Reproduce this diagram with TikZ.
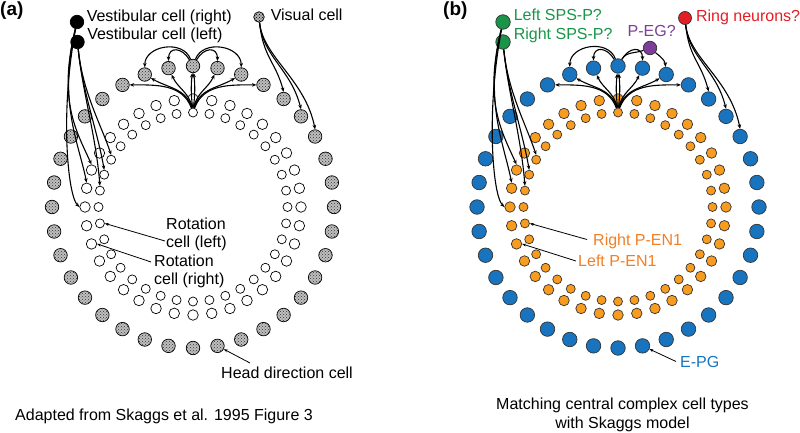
\documentclass[tikz,border=0pt]{standalone}
\usepackage{fontspec}
\setmainfont{Liberation Sans}
\usetikzlibrary{arrows.meta,patterns,positioning}

\definecolor{epgblue}{RGB}{24,116,190}
\definecolor{penorange}{RGB}{248,156,32}
\definecolor{penlabel}{RGB}{240,128,40}
\definecolor{spsgreen}{RGB}{26,148,72}
\definecolor{pegpurple}{RGB}{124,62,152}
\definecolor{ringred}{RGB}{228,30,38}

\tikzset{
  arrow/.style={-{Stealth[length=4.5pt,width=3.6pt]}, line width=1.1pt},
  pointer/.style={-{Stealth[length=4pt,width=3pt]}, line width=0.8pt},
  lbl/.style={font=\fontsize{16}{18}\selectfont, inner sep=0pt, align=left}
}

\begin{document}
\begin{tikzpicture}[x=1pt, y=1pt,
    cell/.style={circle, draw=black, line width=0.7pt, inner sep=0pt},
    hda/.style={cell, minimum size=13.5pt, fill=gray!50,
        postaction={pattern=crosshatch dots, pattern color=black!80}},
    roa/.style={cell, minimum size=10.5pt, fill=white},
    ria/.style={cell, minimum size=9pt, fill=white},
    hdb/.style={cell, minimum size=14.5pt, fill=epgblue, draw=black!80},
    rob/.style={cell, minimum size=10.5pt, fill=penorange, draw=black!80},
    rib/.style={cell, minimum size=9pt, fill=penorange, draw=black!80},
    tag/.style={font=\fontsize{19}{22}\selectfont\bfseries, inner sep=0pt}
]
\useasboundingbox (0,0) rectangle (800,-433);

% rings of cells: panel (a) left, panel (b) right
\foreach \p/\cx in {a/193, b/618}{
  \foreach \k in {0,...,35}{
    \node[hd\p] (\p hd\k) at ({\cx+141*cos(10*\k)}, {-207+141*sin(10*\k)}) {};
    \node[ro\p] (\p ro\k) at ({\cx+108*cos(10*\k)}, {-207+108*sin(10*\k)}) {};
    \node[ri\p] (\p ri\k) at ({\cx+94.5*cos(10*\k)}, {-207+94.5*sin(10*\k)}) {};
  }
}

% input cells
\node[cell, fill=black, minimum size=13.5pt] (vestR) at (77,-22) {};
\node[cell, fill=black, minimum size=13.5pt] (vestL) at (77.5,-42) {};
\node[cell, minimum size=10.5pt, fill=gray!60,
      postaction={pattern=crosshatch dots, pattern color=black}] (visual) at (259,-17) {};
\node[cell, fill=spsgreen, draw=black!80, minimum size=14.5pt] (spsL) at (503,-22) {};
\node[cell, fill=spsgreen, draw=black!80, minimum size=14.5pt] (spsR) at (503,-42) {};
\node[cell, fill=ringred, draw=black!80, minimum size=13pt] (ring) at (685,-18) {};
\node[cell, fill=pegpurple, draw=black!80, minimum size=13.5pt] (peg) at (650,-48) {};

\node[lbl, right=2.5pt of vestR, anchor=base west] (vestRlab) {Vestibular cell (right)};
\node[lbl, right=2.5pt of vestL, anchor=base west, yshift=2pt] (vestLlab) {Vestibular cell (left)};
\node[lbl, right=6pt of visual, anchor=base west, yshift=-4pt] (visuallab) {Visual cell};
\node[lbl, right=3pt of spsL, anchor=base west, yshift=1pt, text=spsgreen] (spsLlab) {Left SPS-P?};
\node[lbl, right=3pt of spsR, anchor=base west, yshift=2.5pt, text=spsgreen] (spsRlab) {Right SPS-P?};
\node[lbl, right=4pt of ring, anchor=base west, yshift=-3.5pt, text=ringred] (ringlab) {Ring neurons?};
\node[lbl, anchor=base west, text=pegpurple] (peglab) at (627.5,-36.7) {P-EG?};

\node[tag, anchor=base west] (taga) at (0,-16) {(a)};
\node[tag, anchor=base west] (tagb) at (443,-16) {(b)};

% connections, same wiring in both panels
\foreach \p/\sa/\sb/\sv in {a/vestR/vestL/visual, b/spsL/spsR/ring}{
  \draw[arrow] (\p ri9) to[out=110,in=0] (\p hd12);
  \draw[arrow] (\p ri9) to[out=105,in=-30] (\p hd11);
  \draw[arrow] (\p ri9) to[out=100,in=-65] (\p hd10);
  \draw[arrow] (\p ri9) to[out=96,in=-96] (\p hd9);
  \draw[arrow] (\p ri9) to[out=84,in=-84] (\p hd9);
  \draw[arrow] (\p ri9) to[out=80,in=-115] (\p hd8);
  \draw[arrow] (\p ri9) to[out=75,in=-150] (\p hd7);
  \draw[arrow] (\p ri9) to[out=70,in=180] (\p hd6);
  \draw[arrow] (\p hd9) to[out=120,in=90,looseness=1.8] (\p hd10);
  \draw[arrow] (\p hd9) to[out=110,in=90,looseness=1.2] (\p hd11);
  \draw[arrow] (\p hd9) to[out=60,in=90,looseness=1.8] (\p hd8);
  \draw[arrow] (\sa) .. controls +(-17,-88) and +(-12,12) .. (\p ro18.west);
  \draw[arrow] (\sa) .. controls +(-19,-80) and +(-8,40) .. (\p ro17.north);
  \draw[arrow] (\sa) .. controls +(-19,-78) and +(-16,35) .. (\p ro16.north);
  \draw[arrow] (\sb) .. controls +(5,-50) and +(-10,30) .. (\p ri15.north);
  \draw[arrow] (\sb) .. controls +(5,-50) and +(-7,40) .. (\p ri16.north);
  \draw[arrow] (\sb) .. controls +(5,-50) and +(-4,50) .. (\p ri17.north);
  \draw[arrow] (\sv) .. controls +(4,-40) and +(-8,30) .. (\p hd5.north);
  \draw[arrow] (\sv) .. controls +(4,-40) and +(-10,40) .. (\p hd4.north);
  \draw[arrow] (\sv) .. controls +(4,-40) and +(-10,50) .. (\p hd3.north);
}
\draw[arrow] (ahd9) to[out=70,in=90,looseness=1.2] (ahd7);
\draw[arrow] (peg) to[out=-40,in=95] (bhd7);
\draw[line width=1.1pt] (peg) to[out=200,in=60] (bhd9);

% labels with pointers
\node[lbl, anchor=west] (rotL) at (166,-234) {Rotation\\cell (left)};
\node[lbl, anchor=west] (rotR) at (154,-271.5) {Rotation\\cell (right)};
\draw[pointer] ([xshift=-1pt,yshift=-7pt]rotL.west) -- (ari19.east);
\draw[pointer] ([xshift=-3pt,yshift=9.5pt]rotR.west) -- (aro20.east);
\node[lbl, anchor=base west] (hdlab) at (221,-378) {Head direction cell};
\draw[pointer] ([xshift=29pt,yshift=15pt]hdlab.base west) -- (ahd28);

\node[lbl, anchor=west, text=penlabel] (penR) at (593,-241.5) {Right P-EN1};
\node[lbl, anchor=west, text=penlabel] (penL) at (578,-261) {Left P-EN1};
\node[lbl, anchor=west, text=epgblue] (epg) at (680,-361.5) {E-PG};
\draw[pointer] ([xshift=-6pt,yshift=2pt]penR.west) -- (bri19.east);
\draw[pointer] ([xshift=-2pt]penL.west) -- (bro20.east);
\draw[pointer] ([xshift=-4pt]epg.west) -- (bhd28);

% captions
\node[lbl, anchor=west] (capa) at (15,-416) {Adapted from Skaggs et al. 1995 Figure 3};
\node[lbl, align=center, font=\fontsize{16}{19}\selectfont] (capb) at (622.5,-414.7)
    {Matching central complex cell types\\with Skaggs model};
\end{tikzpicture}
\end{document}
